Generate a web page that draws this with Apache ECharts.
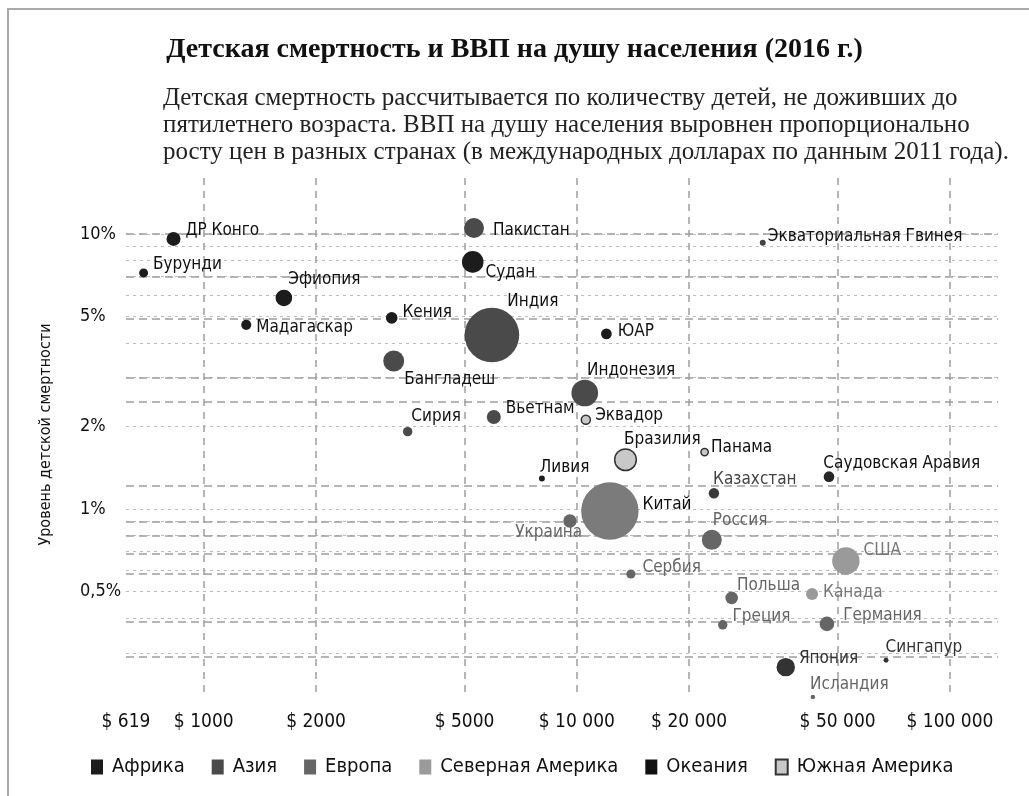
<!DOCTYPE html>
<html>
<head>
<meta charset="utf-8">
<script src="https://cdn.jsdelivr.net/npm/echarts@6/dist/echarts.min.js"></script>
<style>
  body { margin: 0; background: #fff; }
  #frame { position: absolute; left: 7px; top: 8px; width: 1030px; height: 800px;
           border-top: 2px solid #aaa; border-left: 2px solid #aaa; }
  #main { position: absolute; left: 0; top: 0; width: 1029px; height: 796px; }
</style>
</head>
<body>
<div id="frame"></div>
<div id="main"></div>
<script>
// данные
var countries = ['ДР Конго', 'Бурунди', 'Эфиопия', 'Мадагаскар', 'Кения', 'Пакистан', 'Судан', 'Индия',
    'Бангладеш', 'Вьетнам', 'Сирия', 'Экваториальная Гвинея', 'ЮАР', 'Индонезия', 'Эквадор', 'Панама',
    'Бразилия', 'Ливия', 'Китай', 'Украина', 'Казахстан', 'Саудовская Аравия', 'Россия', 'США',
    'Сербия', 'Польша', 'Канада', 'Греция', 'Германия', 'Япония', 'Сингапур', 'Исландия'];
var continentOf = ['Африка', 'Африка', 'Африка', 'Африка', 'Африка', 'Азия', 'Африка', 'Азия',
    'Азия', 'Азия', 'Азия', 'Африка', 'Африка', 'Азия', 'Южная Америка', 'Южная Америка',
    'Южная Америка', 'Африка', 'Азия', 'Европа', 'Азия', 'Азия', 'Европа', 'Северная Америка',
    'Европа', 'Европа', 'Северная Америка', 'Европа', 'Европа', 'Азия', 'Азия', 'Европа'];
// ВВП на душу населения, $
var gdpPerCapita = [830, 690, 1640, 1300, 3190, 5300, 5260, 5920,
    3230, 5990, 3520, 31500, 12000, 10500, 10570, 22000,
    13500, 8060, 12260, 9580, 23300, 47400, 23000, 52600,
    13960, 26000, 42700, 24600, 46800, 36300, 67400, 42900];
// детская смертность, %
var childMortality = [9.59, 7.21, 5.85, 4.67, 4.95, 10.5, 7.91, 4.29,
    3.45, 2.16, 1.91, 9.28, 4.33, 2.64, 2.11, 1.61,
    1.51, 1.29, 0.983, 0.904, 1.14, 1.31, 0.772, 0.647,
    0.58, 0.475, 0.491, 0.379, 0.382, 0.266, 0.282, 0.207];
// население, млн
var population = [54, 13, 86, 20, 31, 138, 167, 1385,
    156, 54, 16, 2, 24, 277, 14, 6,
    168, 2, 1540, 47, 22, 24, 138, 295,
    14, 40, 35, 16, 61, 112, 0.5, 0.1];

var continents = ['Африка', 'Азия', 'Европа', 'Северная Америка', 'Океания', 'Южная Америка'];
var xTickValues = [619, 1000, 2000, 5000, 10000, 20000, 50000, 100000];
var xTickLabels = ['$ 619', '$ 1000', '$ 2000', '$ 5000', '$ 10 000', '$ 20 000', '$ 50 000', '$ 100 000'];
var xGridValues = [1000, 2000, 5000, 10000, 20000, 50000, 100000];
var yTickValues = [10, 5, 2, 1, 0.5];
var yTickLabels = ['10%', '5%', '2%', '1%', '0,5%'];
var yGridDotted = [10, 9, 8, 7, 6, 5, 4, 3, 2, 1, 0.9, 0.8, 0.7, 0.6, 0.5, 0.4, 0.3];
var yGridDashed = [10, 7, 4.93, 3, 2.45, 1.21, 0.9, 0.8, 0.69, 0.585, 0.39, 0.29];

// оформление
var SANS = "'Liberation Sans Narrow', 'DejaVu Sans Condensed', Roboto, sans-serif";
var SERIF = "'Liberation Serif', serif";
var fillColor = {'Африка': '#1c1c1c', 'Азия': '#4a4a4a', 'Европа': '#666666',
    'Северная Америка': '#9a9a9a', 'Океания': '#111111', 'Южная Америка': '#c8c8c8'};
var textColor = {'Африка': '#111', 'Азия': '#111', 'Европа': '#666',
    'Северная Америка': '#777', 'Океания': '#111', 'Южная Америка': '#111'};
var colorOverride = {'Китай': '#7b7b7b', 'Япония': '#333', 'Казахстан': '#3a3a3a',
    'Саудовская Аравия': '#262626', 'Сингапур': '#333', 'Экваториальная Гвинея': '#444'};
var labelOverrideColor = {'Казахстан': '#444', 'Япония': '#333', 'Сингапур': '#333'};
// смещения подписей [dx, dy] относительно позиции справа от точки
var labelOffset = {
    'ДР Конго': [0, -8], 'Бурунди': [0, -8], 'Эфиопия': [-9, -18], 'Мадагаскар': [0, 3],
    'Кения': [0, -5], 'Пакистан': [4, 3], 'Судан': [-3, 11], 'Индия': [-17, -33],
    'Бангладеш': [-5, 19], 'Вьетнам': [0, -8], 'Сирия': [-6, -15], 'Экваториальная Гвинея': [-3, -6],
    'ЮАР': [1, -2], 'Индонезия': [-16, -22], 'Эквадор': [-1, -4], 'Панама': [-3, -4],
    'Бразилия': [-18, -20], 'Ливия': [-10, -11], 'Китай': [-1, -6], 'Украина': [24, 12],
    'Казахстан': [-11, -14], 'Саудовская Аравия': [-16, -13], 'Россия': [-14, -19], 'США': [-1, -10],
    'Сербия': [2, -6], 'Польша': [-6, -12], 'Канада': [0, -1], 'Греция': [0, -8],
    'Германия': [4, -8], 'Япония': [-1, -9], 'Сингапур': [-8, -13], 'Исландия': [-10, -13]
};
var labelLeft = {'Украина': true};

function bubbleSize(pop) {
    return 2 * (2 + 0.68 * Math.sqrt(pop));
}

var series = [];
continents.forEach(function (cont) {
    var data = [];
    for (var i = 0; i < countries.length; i++) {
        if (continentOf[i] !== cont) continue;
        var name = countries[i];
        var item = {
            name: name,
            value: [gdpPerCapita[i], childMortality[i], population[i]],
            label: {
                position: labelLeft[name] ? 'left' : 'right',
                offset: labelOffset[name] || [0, 0],
                color: labelOverrideColor[name] || textColor[cont]
            }
        };
        if (colorOverride[name]) item.itemStyle = {color: colorOverride[name]};
        data.push(item);
    }
    var s = {
        name: cont,
        type: 'scatter',
        clip: false,
        z: 3,
        data: data,
        symbolSize: function (v) { return bubbleSize(v[2]); },
        itemStyle: {color: fillColor[cont], opacity: 1},
        label: {
            show: true,
            formatter: '{b}',
            distance: 5,
            fontFamily: SANS,
            fontSize: 17
        },
        emphasis: {disabled: true}
    };
    if (cont === 'Южная Америка') {
        s.itemStyle.borderColor = '#333';
        s.itemStyle.borderWidth = 1.5;
    }
    series.push(s);
});

// линии сетки
var gridLines = [];
yGridDotted.forEach(function (v) {
    gridLines.push({yAxis: v, lineStyle: {type: [3, 4], color: '#bdbdbd', width: 1}});
});
yGridDashed.forEach(function (v) {
    gridLines.push({yAxis: v, lineStyle: {type: [8, 5], color: '#9e9e9e', width: 1.5}});
});
xGridValues.forEach(function (v) {
    gridLines.push({xAxis: v, lineStyle: {type: [7, 6], color: '#9e9e9e', width: 1.5}});
});
series.push({
    name: 'grid',
    type: 'scatter',
    data: [],
    z: 1,
    markLine: {
        silent: true,
        z: 1,
        symbol: ['none', 'none'],
        label: {show: false},
        animation: false,
        data: gridLines
    }
});

var myChart = echarts.init(document.getElementById('main'));
var option = {
    animation: false,
    title: [
        {
            text: 'Детская смертность и ВВП на душу населения (2016 г.)',
            left: 'center',
            top: 31,
            textStyle: {fontFamily: SERIF, fontWeight: 'bold', fontSize: 28, color: '#111'}
        },
        {
            text: 'Детская смертность рассчитывается по количеству детей, не доживших до\n' +
                'пятилетнего возраста. ВВП на душу населения выровнен пропорционально\n' +
                'росту цен в разных странах (в международных долларах по данным 2011 года).',
            left: 158,
            top: 80,
            textStyle: {fontFamily: SERIF, fontWeight: 'normal', fontSize: 25, lineHeight: 27, color: '#222'}
        }
    ],
    legend: {
        data: continents,
        bottom: 14,
        left: 86,
        icon: 'rect',
        itemWidth: 12,
        itemHeight: 15,
        itemGap: 27,
        selectedMode: false,
        textStyle: {fontFamily: SANS, fontSize: 20, color: '#111', padding: [0, 0, 0, 4]}
    },
    grid: {left: 126, right: 31, top: 177, bottom: 104},
    xAxis: {
        type: 'log',
        logBase: 10,
        min: 619,
        max: 134500,
        axisLine: {show: false},
        axisTick: {show: false},
        splitLine: {show: false},
        axisLabel: {
            customValues: xTickValues,
            margin: 21,
            fontFamily: SANS,
            fontSize: 19,
            color: '#111',
            formatter: function (v) {
                var k = xTickValues.findIndex(function (t) { return Math.abs(t - v) / t < 0.01; });
                return k >= 0 ? xTickLabels[k] : '';
            }
        }
    },
    yAxis: {
        type: 'log',
        logBase: 10,
        min: 0.216,
        max: 16.1,
        name: 'Уровень детской смертности',
        nameLocation: 'middle',
        nameRotate: 90,
        nameGap: 72,
        nameTextStyle: {fontFamily: SANS, fontSize: 16, color: '#111'},
        axisLine: {show: false},
        axisTick: {show: false},
        splitLine: {show: false},
        axisLabel: {
            customValues: yTickValues,
            margin: 46,
            align: 'left',
            fontFamily: SANS,
            fontSize: 18,
            color: '#111',
            formatter: function (v) {
                var k = yTickValues.findIndex(function (t) { return Math.abs(t - v) / t < 0.01; });
                return k >= 0 ? yTickLabels[k] : '';
            }
        }
    },
    series: series
};
myChart.setOption(option);
</script>
</body>
</html>
